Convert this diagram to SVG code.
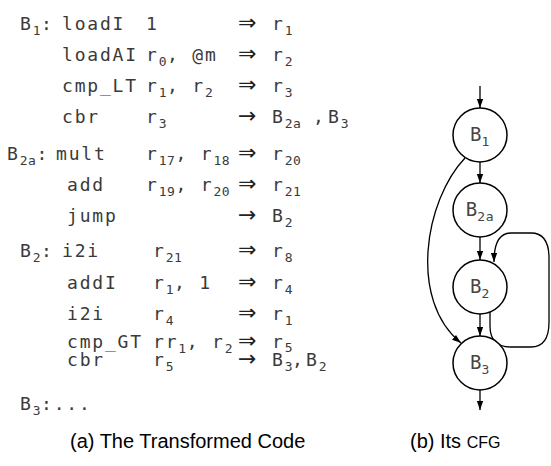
<svg xmlns="http://www.w3.org/2000/svg" width="551" height="466" viewBox="0 0 551 466">
<style>
.c{font-family:"DejaVu Sans Mono",monospace;font-size:18px;letter-spacing:1.8px;fill:#3a3a3a}
.s{font-size:13px;letter-spacing:0.6px}
.ar{font-family:"DejaVu Sans",sans-serif;font-size:22px;letter-spacing:0;fill:#222}
.cap{font-family:"Liberation Sans",Arial,sans-serif;font-size:20px;fill:#000}
.nd{fill:#fff;stroke:#000;stroke-width:1.5}
.lb{font-family:"DejaVu Sans Mono",monospace;font-size:19px;fill:#444;text-anchor:middle}
.e{fill:none;stroke:#000;stroke-width:1.3;marker-end:url(#ah)}
</style>
<defs>
<marker id="ah" viewBox="0 0 10 10" refX="10" refY="5" markerWidth="9" markerHeight="9" orient="auto" markerUnits="userSpaceOnUse">
<path d="M0,1.5 L10,5 L0,8.5 z" fill="#000"/>
</marker>
</defs>
<rect width="551" height="466" fill="#fff"/>
<g id="code" class="c">
<text x="20" y="30">B<tspan class="s" dy="5">1</tspan><tspan dy="-5">:</tspan></text>
<text x="62" y="30">loadI</text>
<text x="146" y="30">1</text>
<text x="238" y="30" class="ar">⇒</text>
<text x="272" y="30">r<tspan class="s" dy="5">1</tspan></text>

<text x="62" y="61">loadAI</text>
<text x="146" y="61">r<tspan class="s" dy="5">0</tspan><tspan dy="-5">, @m</tspan></text>
<text x="238" y="61" class="ar">⇒</text>
<text x="272" y="61">r<tspan class="s" dy="5">2</tspan></text>

<text x="62" y="92">cmp_LT</text>
<text x="146" y="92">r<tspan class="s" dy="5">1</tspan><tspan dy="-5">, r</tspan><tspan class="s" dy="5">2</tspan></text>
<text x="238" y="92" class="ar">⇒</text>
<text x="272" y="92">r<tspan class="s" dy="5">3</tspan></text>

<text x="62" y="123">cbr</text>
<text x="146" y="123">r<tspan class="s" dy="5">3</tspan></text>
<text x="238" y="123" class="ar">→</text>
<text x="272" y="123">B<tspan class="s" dy="5">2a</tspan><tspan x="313" dy="-5">,</tspan><tspan x="328">B</tspan><tspan class="s" dy="5">3</tspan></text>

<text x="7" y="160">B<tspan class="s" dy="5">2a</tspan><tspan dy="-5">:</tspan></text>
<text x="56" y="160">mult</text>
<text x="146" y="160">r<tspan class="s" dy="5">17</tspan><tspan dy="-5">, r</tspan><tspan class="s" dy="5">18</tspan></text>
<text x="238" y="160" class="ar">⇒</text>
<text x="272" y="160">r<tspan class="s" dy="5">20</tspan></text>

<text x="67" y="191">add</text>
<text x="146" y="191">r<tspan class="s" dy="5">19</tspan><tspan dy="-5">, r</tspan><tspan class="s" dy="5">20</tspan></text>
<text x="238" y="191" class="ar">⇒</text>
<text x="272" y="191">r<tspan class="s" dy="5">21</tspan></text>

<text x="67" y="222">jump</text>
<text x="238" y="222" class="ar">→</text>
<text x="272" y="222">B<tspan class="s" dy="5">2</tspan></text>

<text x="20" y="257">B<tspan class="s" dy="5">2</tspan><tspan dy="-5">:</tspan></text>
<text x="62" y="257">i2i</text>
<text x="153" y="257">r<tspan class="s" dy="5">21</tspan></text>
<text x="238" y="257" class="ar">⇒</text>
<text x="272" y="257">r<tspan class="s" dy="5">8</tspan></text>

<text x="67" y="289">addI</text>
<text x="153" y="289">r<tspan class="s" dy="5">1</tspan><tspan dy="-5">, 1</tspan></text>
<text x="238" y="289" class="ar">⇒</text>
<text x="272" y="289">r<tspan class="s" dy="5">4</tspan></text>

<text x="67" y="320">i2i</text>
<text x="153" y="320">r<tspan class="s" dy="5">4</tspan></text>
<text x="238" y="320" class="ar">⇒</text>
<text x="272" y="320">r<tspan class="s" dy="5">1</tspan></text>

<text x="67" y="348">cmp_GT</text>
<text x="153" y="348">rr<tspan class="s" dy="5">1</tspan><tspan dy="-5">, r</tspan><tspan class="s" dy="5">2</tspan></text>
<text x="238" y="348" class="ar">⇒</text>
<text x="272" y="348">r<tspan class="s" dy="4">5</tspan></text>

<text x="67" y="366">cbr</text>
<text x="153" y="366">r<tspan class="s" dy="5">5</tspan></text>
<text x="238" y="366" class="ar">→</text>
<text x="272" y="366">B<tspan class="s" dy="5">3</tspan><tspan x="292" dy="-5">,</tspan><tspan x="306">B</tspan><tspan class="s" dy="5">2</tspan></text>

<text x="20" y="410">B<tspan class="s" dy="5">3</tspan><tspan dy="-5">:...</tspan></text>
</g>
<g id="connectors">
<path class="e" d="M480,86 L480,108"/>
<path class="e" d="M480,162 L480,183"/>
<path class="e" d="M480,237 L480,260"/>
<path class="e" d="M480,314 L480,336"/>
<path class="e" d="M480,390 L480,410"/>
<path class="e" d="M465,158 C425,200 408,300 461,343"/>
<path class="e" d="M490,312 L490,326 C490,340 497,347 511,347 L531,347 C544,347 549,338 549,322 L549,258 C549,242 544,233 531,233 L511,233 C500,233 494,242 494,262"/>
</g>
<g id="B1"><circle class="nd" cx="480" cy="135" r="27"/><text class="lb" x="480" y="141">B<tspan class="s" dy="5">1</tspan></text></g>
<g id="B2a"><circle class="nd" cx="480" cy="210" r="27"/><text class="lb" x="480" y="216">B<tspan class="s" dy="5">2a</tspan></text></g>
<g id="B2"><circle class="nd" cx="480" cy="287" r="27"/><text class="lb" x="480" y="293">B<tspan class="s" dy="5">2</tspan></text></g>
<g id="B3"><circle class="nd" cx="480" cy="363" r="27"/><text class="lb" x="480" y="369">B<tspan class="s" dy="5">3</tspan></text></g>
<g id="captions">
<text class="cap" x="70" y="448">(a) The Transformed Code</text>
<text class="cap" x="410" y="448">(b) Its <tspan font-size="16">CFG</tspan></text>
</g>
</svg>
